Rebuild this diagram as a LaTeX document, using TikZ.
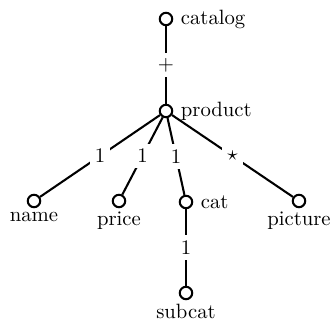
\documentclass[tikz,border=0pt]{standalone}
\usepackage{amsmath}
\usepackage{amssymb}
\usetikzlibrary{arrows, arrows.meta}
\usetikzlibrary{calc}

\begin{document}
\begin{tikzpicture}[x=0.483pt, y=-0.483pt,
    elem/.style={circle, draw, line width=1pt, inner sep=0pt, minimum size=6pt},
    card/.style={fill=white, inner sep=2.5pt},
    every label/.style={inner sep=1.5pt}]
    \useasboundingbox (0,0) rectangle (332,320);

    \node[elem, label={[inner sep=3.5pt]right:catalog}] (catalog) at (166,19) {};
    \node[elem, label={[inner sep=3.5pt]right:product}] (product) at (166,111) {};
    \node[elem, label=below:name] (name) at (34,201) {};
    \node[elem, label=below:price] (price) at (119,201) {};
    \node[elem, label={[inner sep=3.5pt]right:cat}] (cat) at (186,202) {};
    \node[elem, label=below:picture] (picture) at (299,201) {};
    \node[elem, label=below:subcat] (subcat) at (186,293) {};

    \draw[line width=1pt] (catalog) -- node[card] {$+$} (product);
    \draw[line width=1pt] (product) -- node[card] {1} (name);
    \draw[line width=1pt] (product) -- node[card] {1} (price);
    \draw[line width=1pt] (product) -- node[card] {1} (cat);
    \draw[line width=1pt] (product) -- node[card] {$\star$} (picture);
    \draw[line width=1pt] (cat) -- node[card] {1} (subcat);
  \end{tikzpicture}
\end{document}
